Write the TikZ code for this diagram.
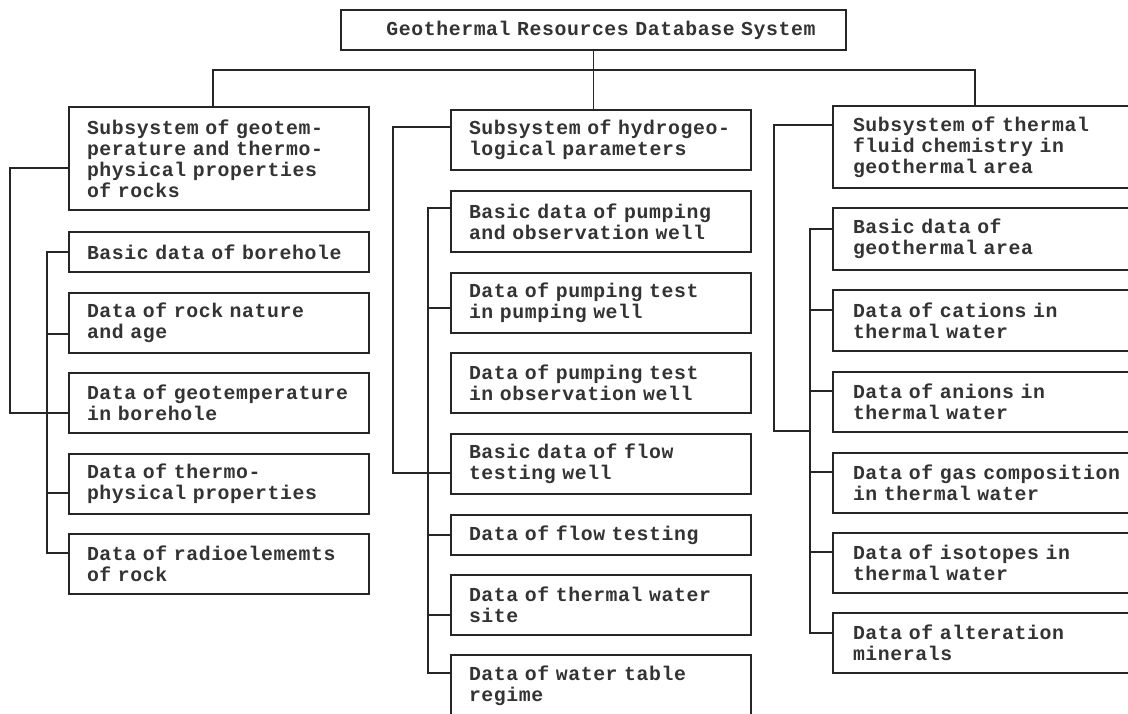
\documentclass[tikz,border=0pt]{standalone}
\usepackage{fontspec}
\newfontfamily\typ[LetterSpace=3]{Liberation Mono}
\begin{document}
\begin{tikzpicture}[x=1pt,y=-1pt,
  bx/.style={draw=black!85, line width=1.5pt, anchor=north west, outer sep=0pt,
    inner xsep=18pt, inner ysep=0pt, text width=264pt, align=left, text=black!80,
    font=\typ\bfseries\fontsize{19.8}{21}\selectfont},
  rbx/.style={bx, text width=300pt, inner xsep=20pt},
  ln/.style={draw=black!85, line width=1.5pt}]
\useasboundingbox (0,0) rectangle (1128,714);
\fill[white] (0,0) rectangle (1128,714);
\clip (0,0) rectangle (1128,714);

% top
\node[bx, inner xsep=0pt, text width=505pt, align=center, minimum height=40pt] (T) at (341,10) {\hspace*{15pt}Geothermal Resources Database System};

% left column
\node[bx, minimum height=103pt] (L0) at (69,107) {Subsystem of geotem-\\perature and thermo-\\physical properties\\of rocks};
\node[bx, minimum height=40pt] (L1) at (69,232) {Basic data of borehole};
\node[bx, minimum height=60pt] (L2) at (69,293) {Data of rock nature\\and age};
\node[bx, minimum height=60pt] (L3) at (69,373) {Data of geotemperature\\in borehole};
\node[bx, minimum height=60pt] (L4) at (69,454) {Data of thermo-\\physical properties};
\node[bx, minimum height=60pt] (L5) at (69,534) {Data of radioelememts\\of rock};

% middle column
\node[bx, minimum height=60pt] (M0) at (451,110) {Subsystem of hydrogeo-\\logical parameters};
\node[bx, minimum height=61pt] (M1) at (451,191) {Basic data of pumping\\and observation well};
\node[bx, minimum height=60pt] (M2) at (451,273) {Data of pumping test\\in pumping well};
\node[bx, minimum height=60pt] (M3) at (451,353) {Data of pumping test\\in observation well};
\node[bx, minimum height=60pt] (M4) at (451,434) {Basic data of flow\\testing well};
\node[bx, minimum height=40pt] (M5) at (451,515) {Data of flow testing};
\node[bx, minimum height=60pt] (M6) at (451,575) {Data of thermal water\\site};
\node[bx, minimum height=61pt] (M7) at (451,655) {Data of water table\\regime};

% right column
\node[rbx, minimum height=82pt] (R0) at (833,106) {Subsystem of thermal\\fluid chemistry in\\geothermal area};
\node[rbx, minimum height=62pt] (R1) at (833,208) {Basic data of\\geothermal area};
\node[rbx, minimum height=61pt] (R2) at (833,290) {Data of cations in\\thermal water};
\node[rbx, minimum height=60pt] (R3) at (833,372) {Data of anions in\\thermal water};
\node[rbx, minimum height=60pt] (R4) at (833,453) {Data of gas composition\\in thermal water};
\node[rbx, minimum height=60pt] (R5) at (833,533) {Data of isotopes in\\thermal water};
\node[rbx, minimum height=60pt] (R6) at (833,613) {Data of alteration\\minerals};

% trunk
\coordinate (hub) at ([yshift=-20pt]T.south);
\draw[ln] (T.south) -- (hub);
\draw[ln] ([xshift=144pt]L0.north west) |- (hub) -| ([xshift=142pt]R0.north west);
\draw[ln] (hub) -- (hub |- M0.north);

% left connectors
\draw[ln] ([yshift=-61pt]L0.north west) -- ++(-59,0) |- ([yshift=-40pt]L3.north west);
\draw[ln] (L1.west) -- ++(-22,0) |- ([yshift=-19pt]L5.north west);
\draw[ln] ([yshift=-41pt]L2.north west) -- ++(-22,0);
\draw[ln] ([yshift=-39pt]L4.north west) -- ++(-22,0);

% middle connectors
\draw[ln] ([yshift=-17pt]M0.north west) -- ++(-58,0) |- ([yshift=-39pt]M4.north west);
\draw[ln] ([yshift=-17pt]M1.north west) -- ++(-23,0) |- ([yshift=-18pt]M7.north west);
\draw[ln] ([yshift=-35pt]M2.north west) -- ++(-23,0);
\draw[ln] (M5.west) -- ++(-23,0);
\draw[ln] ([yshift=-40pt]M6.north west) -- ++(-23,0);

% right connectors
\draw[ln] ([yshift=-19pt]R0.north west) -- ++(-59,0) |- ([xshift=-23pt,yshift=1pt]R3.south west);
\draw[ln] ([yshift=-21pt]R1.north west) -- ++(-23,0) |- ([yshift=-20pt]R6.north west);
\draw[ln] ([yshift=-20pt]R2.north west) -- ++(-23,0);
\draw[ln] ([yshift=-19pt]R3.north west) -- ++(-23,0);
\draw[ln] ([yshift=-19pt]R4.north west) -- ++(-23,0);
\draw[ln] ([yshift=-19pt]R5.north west) -- ++(-23,0);
\end{tikzpicture}
\end{document}
